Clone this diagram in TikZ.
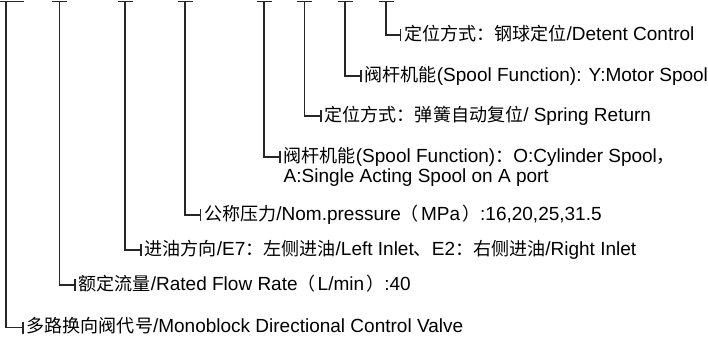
\documentclass[tikz,border=0pt]{standalone}
\usepackage{fontspec}
\setmainfont{Liberation Sans}
\newfontfamily\cjk{Noto Sans CJK SC}[Scale=0.95]
\usetikzlibrary{positioning}

\begin{document}
\begin{tikzpicture}[
        x=1pt, y=-1pt,
        every node/.style={font=\fontsize{19}{22}\selectfont},
        item/.style={anchor=west, inner sep=0pt, text height=14pt, text depth=4pt},
        leader/.style={line width=1.2pt, black!85},
    ]
        \useasboundingbox (0,0) rectangle (708,340);

        % Marks under the model code (one per field)
        \coordinate (c1) at (386,1.5);
        \coordinate (c2) at (345,1.5);
        \coordinate (c3) at (304.5,1.5);
        \coordinate (c4) at (264,1.5);
        \coordinate (c5) at (185,1.5);
        \coordinate (c6) at (125,1.5);
        \coordinate (c7) at (59.5,1.5);
        \coordinate (c8) at (6,1.5);

        % Field descriptions
        \node[item] (l1) at (404,35) {{\cjk 定位方式：钢球定位}/Detent Control};
        \node[item] (l2) at (364.5,76) {{\cjk 阀杆机能}(Spool Function): Y:Motor Spool};
        \node[item] (l3) at (324.5,116) {{\cjk 定位方式：弹簧自动复位}/ Spring Return};
        \node[item] (l4) at (283.5,157) {{\cjk 阀杆机能}(Spool Function){\cjk ：}O:Cylinder Spool{\cjk ，}};
        \node[item, below=20pt of l4.west, anchor=west] (l4b) {A:Single Acting Spool on A port};
        \node[item] (l5) at (204,215) {{\cjk 公称压力}/Nom.pressure{\cjk （}\kern2pt MPa\kern2pt{\cjk ）}:16,20,25,31.5};
        \node[item] (l6) at (144.5,250) {{\cjk 进油方向}/E7{\cjk ：左侧进油}/Left Inlet{\cjk 、}E2{\cjk ：右侧进油}/Right Inlet};
        \node[item] (l7) at (78.5,285) {{\cjk 额定流量}/Rated Flow Rate{\cjk （}\kern2pt L/min\kern2pt{\cjk ）}:40};
        \node[item] (l8) at (26.5,327.5) {{\cjk 多路换向阀代号}/Monoblock Directional Control Valve};

        % Tick in front of each description
        \coordinate[left=3.5pt of l1.west] (k1);
        \coordinate[left=3.5pt of l2.west] (k2);
        \coordinate[left=3.5pt of l3.west] (k3);
        \coordinate[left=3.5pt of l4.west] (k4);
        \coordinate[left=3.5pt of l5.west] (k5);
        \coordinate[left=3.5pt of l6.west] (k6);
        \coordinate[left=3.5pt of l7.west] (k7);
        \coordinate[left=3.5pt of l8.west] (k8);

        % T bars
        \draw[leader] ([xshift=-7.5pt]c1) -- ([xshift=7.5pt]c1);
        \draw[leader] ([xshift=-7.5pt]c2) -- ([xshift=7.5pt]c2);
        \draw[leader] ([xshift=-7.5pt]c3) -- ([xshift=7.5pt]c3);
        \draw[leader] ([xshift=-7.5pt]c4) -- ([xshift=7.5pt]c4);
        \draw[leader] ([xshift=-7.5pt]c5) -- ([xshift=7.5pt]c5);
        \draw[leader] ([xshift=-7.5pt]c6) -- ([xshift=7.5pt]c6);
        \draw[leader] ([xshift=-7.5pt]c7) -- ([xshift=7.5pt]c7);
        \draw[leader] ([xshift=-6pt]c8) -- ([xshift=18pt]c8);

        % Leaders down and across
        \draw[leader] (c1) |- (k1);
        \draw[leader] (c2) |- (k2);
        \draw[leader] (c3) |- (k3);
        \draw[leader] (c4) |- (k4);
        \draw[leader] (c5) |- (k5);
        \draw[leader] (c6) |- (k6);
        \draw[leader] (c7) |- (k7);
        \draw[leader] (c8) |- (k8);

        \draw[leader] ([yshift=6pt]k1) -- ([yshift=-6pt]k1);
        \draw[leader] ([yshift=6pt]k2) -- ([yshift=-6pt]k2);
        \draw[leader] ([yshift=6pt]k3) -- ([yshift=-6pt]k3);
        \draw[leader] ([yshift=6pt]k4) -- ([yshift=-6pt]k4);
        \draw[leader] ([yshift=6pt]k5) -- ([yshift=-6pt]k5);
        \draw[leader] ([yshift=6pt]k6) -- ([yshift=-6pt]k6);
        \draw[leader] ([yshift=6pt]k7) -- ([yshift=-6pt]k7);
        \draw[leader] ([yshift=6pt]k8) -- ([yshift=-6pt]k8);

    \end{tikzpicture}
\end{document}
